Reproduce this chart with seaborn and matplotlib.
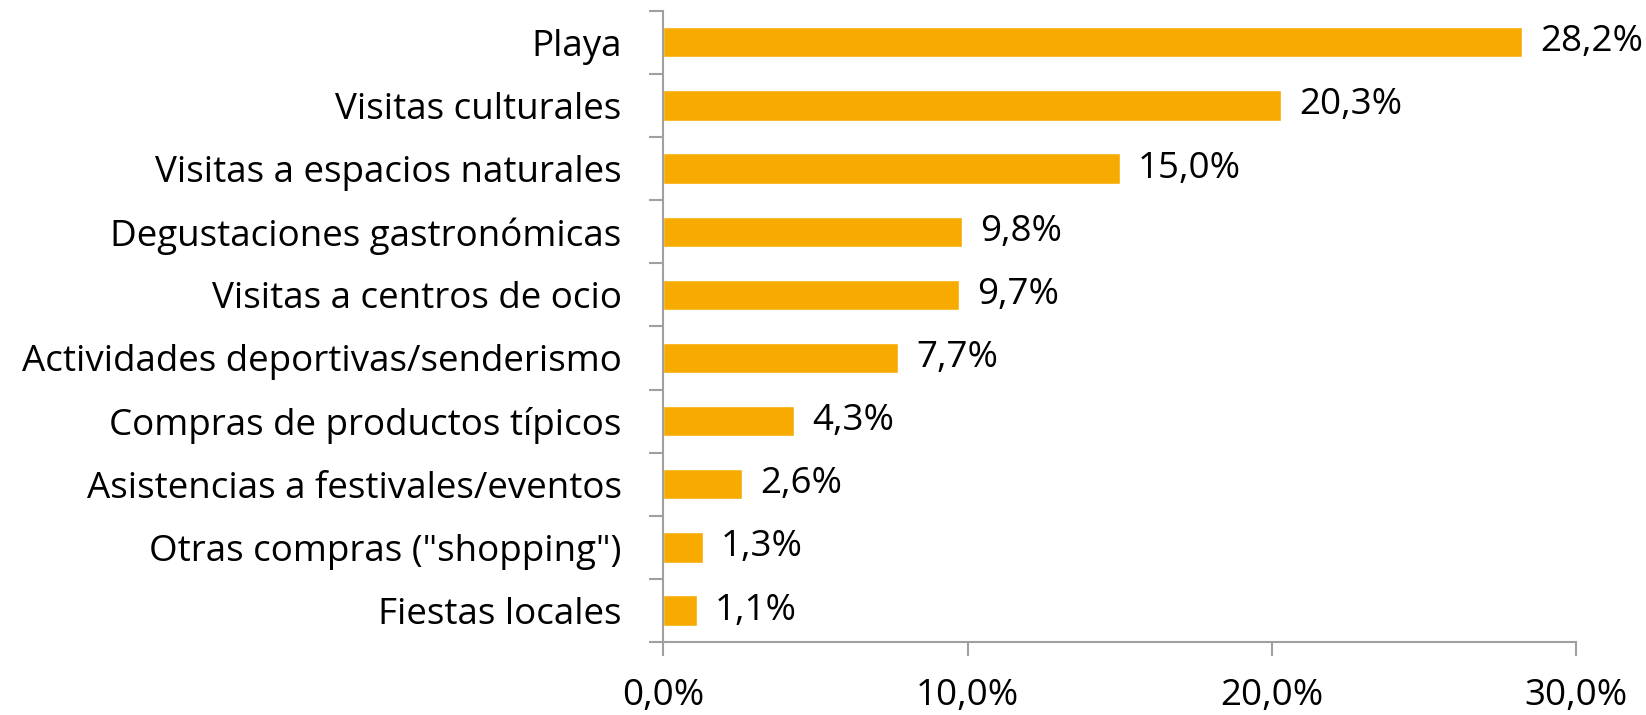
import matplotlib
matplotlib.use("Agg")
import matplotlib.pyplot as plt
import seaborn as sns
import pandas as pd
import numpy as np

# data
categorias = [
    "Playa",
    "Visitas culturales",
    "Visitas a espacios naturales",
    "Degustaciones gastronómicas",
    "Visitas a centros de ocio",
    "Actividades deportivas/senderismo",
    "Compras de productos típicos",
    "Asistencias a festivales/eventos",
    'Otras compras ("shopping")',
    "Fiestas locales",
]
porcentajes = [28.2, 20.3, 15.0, 9.8, 9.7, 7.7, 4.3, 2.6, 1.3, 1.1]
xticks = [0, 10, 20, 30]

df = pd.DataFrame({"actividad": categorias, "pct": porcentajes})

sns.set_style("white")
plt.rcParams["font.family"] = ["Open Sans", "DejaVu Sans"]

fig = plt.figure(figsize=(16.46, 7.15), dpi=100)
ax = fig.add_axes([0.403, 0.102, 0.5547, 0.883])

sns.barplot(data=df, x="pct", y="actividad", orient="h", color="#F7AB00",
            width=0.48, saturation=1, ax=ax)

ax.set_xlim(0, 30)
ax.set_ylim(len(categorias) - 0.5, -0.5)
ax.set_xlabel("")
ax.set_ylabel("")

fs = 26.5
# labels at the end of the bars
for i, v in enumerate(porcentajes):
    ax.text(v + 0.6, i, f"{v:.1f}%".replace(".", ","), va="center", ha="left",
            fontsize=fs, color="black")

ax.set_xticks(xticks)
ax.set_xticklabels([f"{t:.1f}%".replace(".", ",") for t in xticks], fontsize=fs, color="black")
ax.set_yticks(range(len(categorias)))
ax.set_yticklabels(categorias, fontsize=fs, color="black")
ax.set_yticks(np.arange(-0.5, len(categorias), 1), minor=True)

grey = "#A0A0A0"
for s in ["top", "right"]:
    ax.spines[s].set_visible(False)
for s in ["left", "bottom"]:
    ax.spines[s].set_color(grey)
    ax.spines[s].set_linewidth(1.5)

ax.tick_params(axis="y", which="major", length=0, pad=30)
ax.tick_params(axis="y", which="minor", left=True, length=10, width=1.5, color=grey, direction="out")
ax.tick_params(axis="x", which="major", bottom=True, length=10, width=1.5, color=grey, direction="out", pad=16)

fig.savefig("out.png", dpi=100)
